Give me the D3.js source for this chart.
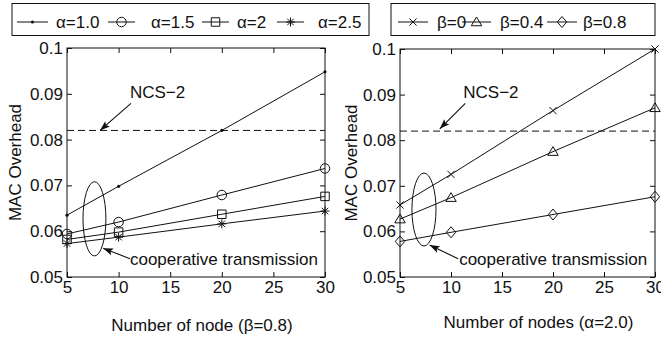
<!DOCTYPE html>
<html>
<head>
<meta charset="utf-8">
<script src="https://cdn.jsdelivr.net/npm/d3@7"></script>
<style>
  html, body { margin: 0; padding: 0; background: #fff; }
  svg { display: block; }
  text { font-family: "Liberation Sans", Arial, sans-serif; fill: #111; }
</style>
</head>
<body>
<svg id="chart" width="661" height="338"></svg>
<script>
// ---------------- data ----------------
const nodes = [5, 10, 20, 30];
const xTicks = [5, 10, 15, 20, 25, 30];
const yTicks = [0.05, 0.06, 0.07, 0.08, 0.09, 0.1];
const yTickLabels = ["0.05", "0.06", "0.07", "0.08", "0.09", "0.1"];
const ncs2 = 0.082;

const alphaLabels = ["\u03B1=1.0", "\u03B1=1.5", "\u03B1=2", "\u03B1=2.5"];
const alpha10 = [0.0635, 0.0698, 0.0820, 0.0948];
const alpha15 = [0.0594, 0.0620, 0.0679, 0.0737];
const alpha20 = [0.0582, 0.0598, 0.0637, 0.0676];
const alpha25 = [0.0573, 0.0587, 0.0616, 0.0644];

const betaLabels = ["\u03B2=0", "\u03B2=0.4", "\u03B2=0.8"];
const beta00 = [0.0658, 0.0725, 0.0865, 0.1000];
const beta04 = [0.0627, 0.0674, 0.0775, 0.0871];
const beta08 = [0.0578, 0.0598, 0.0637, 0.0676];

const leftXLabel = "Number of node (\u03B2=0.8)";
const rightXLabel = "Number of nodes (\u03B1=2.0)";
const yLabel = "MAC Overhead";
const ncsLabel = "NCS\u22122";
const coopLabel = "cooperative transmission";

// ---------------- helpers ----------------
const svg = d3.select("#chart");
const FS = 17;

function markerPath(type, s) {
  const h = s / 2;
  switch (type) {
    case "dot": return null;
    case "circle": return d3.symbol().type(d3.symbolCircle).size(Math.PI * h * h)();
    case "square": return `M${-h},${-h}H${h}V${h}H${-h}Z`;
    case "star": {
      const d = h * 0.72;
      return `M0,${-h}V${h}M${-h},0H${h}M${-d},${-d}L${d},${d}M${-d},${d}L${d},${-d}`;
    }
    case "x": { const d = h * 0.8; return `M${-d},${-d}L${d},${d}M${-d},${d}L${d},${-d}`; }
    case "triangle": return `M0,${-h}L${h * 1.05},${h * 0.75}L${-h * 1.05},${h * 0.75}Z`;
    case "diamond": return `M0,${-h}L${h * 0.85},0L0,${h}L${-h * 0.85},0Z`;
  }
}

function drawMarker(g, type, px, py) {
  if (type === "dot") {
    g.append("circle").attr("cx", px).attr("cy", py).attr("r", 1.6).attr("fill", "#111");
  } else {
    const size = {circle: 9.5, square: 8.5, star: 9, x: 9, triangle: 10, diamond: 11}[type];
    g.append("path").attr("d", markerPath(type, size))
      .attr("transform", `translate(${px},${py})`)
      .attr("fill", "none").attr("stroke", "#111").attr("stroke-width", 1);
  }
}

function arrow(g, x1, y1, x2, y2) {
  g.append("line").attr("x1", x1).attr("y1", y1).attr("x2", x2).attr("y2", y2)
    .attr("stroke", "#111").attr("stroke-width", 1.1);
  const ang = Math.atan2(y2 - y1, x2 - x1);
  const L = 10, W = 3.6;
  const bx = x2 - L * Math.cos(ang), by = y2 - L * Math.sin(ang);
  const nx = -Math.sin(ang), ny = Math.cos(ang);
  const ix = bx + Math.cos(ang) * 2, iy = by + Math.sin(ang) * 2;
  g.append("path")
    .attr("d", `M${x2},${y2}L${bx + nx * W},${by + ny * W}L${ix},${iy}L${bx - nx * W},${by - ny * W}Z`)
    .attr("fill", "#111");
}

function panel(opts) {
  const x = d3.scaleLinear().domain([5, 30]).range(opts.xr);
  const y = d3.scaleLinear().domain([0.05, 0.1]).range(opts.yr);
  const g = svg.append("g");

  // frame
  g.append("rect").attr("x", opts.xr[0]).attr("y", opts.yr[1])
    .attr("width", opts.xr[1] - opts.xr[0]).attr("height", opts.yr[0] - opts.yr[1])
    .attr("fill", "none").attr("stroke", "#111").attr("stroke-width", 1);

  const tk = 5;
  const bottom = g.append("g").attr("transform", `translate(0,${opts.yr[0]})`)
    .call(d3.axisBottom(x).tickValues(xTicks).tickSize(-tk).tickSizeOuter(0).tickPadding(4));
  const top = g.append("g").attr("transform", `translate(0,${opts.yr[1]})`)
    .call(d3.axisTop(x).tickValues(xTicks).tickSize(-tk).tickSizeOuter(0).tickFormat(""));
  const left = g.append("g").attr("transform", `translate(${opts.xr[0]},0)`)
    .call(d3.axisLeft(y).tickValues(yTicks).tickSize(-tk).tickSizeOuter(0).tickPadding(4)
      .tickFormat((d, i) => yTickLabels[i]));
  const right = g.append("g").attr("transform", `translate(${opts.xr[1]},0)`)
    .call(d3.axisRight(y).tickValues(yTicks).tickSize(-tk).tickSizeOuter(0).tickFormat(""));
  [bottom, top, left, right].forEach(a => {
    a.select(".domain").remove();
    a.selectAll("line").attr("stroke", "#111");
    a.selectAll("text").style("font-size", FS + "px").style("font-family", '"Liberation Sans", Arial, sans-serif').attr("fill", "#111");
  });

  // NCS-2 dashed line
  g.append("line").attr("x1", x(5)).attr("x2", x(30)).attr("y1", y(ncs2)).attr("y2", y(ncs2))
    .attr("stroke", "#111").attr("stroke-width", 1).attr("stroke-dasharray", "7,4");

  // series
  const line = d3.line().x((d, i) => x(nodes[i])).y(d => y(d));
  opts.series.forEach((s, k) => {
    g.append("path").attr("d", line(s)).attr("fill", "none").attr("stroke", "#111").attr("stroke-width", 1);
    s.forEach((v, i) => drawMarker(g, opts.markers[k], x(nodes[i]), y(v)));
  });

  // annotations
  const a = opts.ann;
  g.append("text").attr("x", x(a.ncsText[0])).attr("y", y(a.ncsText[1])).style("font-size", FS + "px").text(ncsLabel);
  arrow(g, x(a.ncsArrow[0]), y(a.ncsArrow[1]), x(a.ncsArrow[2]), y(a.ncsArrow[3]));
  g.append("ellipse").attr("cx", x(a.ell[0])).attr("cy", y(a.ell[1]))
    .attr("rx", x(a.ell[0] + a.ell[2]) - x(a.ell[0])).attr("ry", y(a.ell[1]) - y(a.ell[1] + a.ell[3]))
    .attr("fill", "none").attr("stroke", "#111").attr("stroke-width", 1);
  g.append("text").attr("x", x(a.coopText[0])).attr("y", y(a.coopText[1])).style("font-size", FS + "px").text(coopLabel);
  arrow(g, x(a.coopArrow[0]), y(a.coopArrow[1]), x(a.coopArrow[2]), y(a.coopArrow[3]));

  // axis labels
  g.append("text").attr("x", (opts.xr[0] + opts.xr[1]) / 2 + opts.xlabDx).attr("y", opts.xlabY)
    .attr("text-anchor", "middle").style("font-size", FS + "px").text(opts.xlabel);
  g.append("text").attr("transform", `translate(${opts.ylabX},${(opts.yr[0] + opts.yr[1]) / 2}) rotate(-90)`)
    .attr("text-anchor", "middle").style("font-size", FS + "px").text(yLabel);
}

// ---------------- panels ----------------
panel({
  xr: [67, 325], yr: [277, 48],
  series: [alpha10, alpha15, alpha20, alpha25],
  markers: ["dot", "circle", "square", "star"],
  xlabel: leftXLabel, xlabDx: 6, xlabY: 331, ylabX: 21,
  ann: {
    ncsText: [11.1, 0.0891], ncsArrow: [11.2, 0.0879, 8.2, 0.0820],
    ell: [7.66, 0.0627, 1.11, 0.0081],
    coopText: [11.1, 0.0526], coopArrow: [11.1, 0.0540, 8.5, 0.0563]
  }
});
panel({
  xr: [400, 655], yr: [277, 49],
  series: [beta00, beta04, beta08],
  markers: ["x", "triangle", "diamond"],
  xlabel: rightXLabel, xlabDx: 11, xlabY: 328, ylabX: 357,
  ann: {
    ncsText: [11.2, 0.0893], ncsArrow: [11.4, 0.0881, 8.9, 0.0825],
    ell: [7.35, 0.0648, 1.18, 0.0080],
    coopText: [10.8, 0.0526], coopArrow: [10.7, 0.0540, 7.9, 0.0570]
  }
});

// ---------------- legends ----------------
function legend(x0, x1, items) {
  const g = svg.append("g");
  g.append("rect").attr("x", x0).attr("y", 3.5).attr("width", x1 - x0).attr("height", 32)
    .attr("fill", "#fff").attr("stroke", "#111").attr("stroke-width", 1);
  items.forEach(it => {
    g.append("line").attr("x1", it.l0).attr("x2", it.l1).attr("y1", 22).attr("y2", 22)
      .attr("stroke", "#111").attr("stroke-width", 1);
    drawMarker(g, it.m, (it.l0 + it.l1) / 2, 22);
    g.append("text").attr("x", it.t).attr("y", 28).style("font-size", FS + "px").text(it.label);
  });
}
legend(12, 369, [
  {l0: 17, l1: 48, t: 56, m: "dot", label: alphaLabels[0]},
  {l0: 108, l1: 135, t: 151, m: "circle", label: alphaLabels[1]},
  {l0: 202, l1: 229, t: 237, m: "square", label: alphaLabels[2]},
  {l0: 277, l1: 304, t: 318, m: "star", label: alphaLabels[3]}
]);
legend(391, 655, [
  {l0: 398, l1: 428, t: 437, m: "x", label: betaLabels[0]},
  {l0: 462, l1: 491, t: 500, m: "triangle", label: betaLabels[1]},
  {l0: 547, l1: 577, t: 583, m: "diamond", label: betaLabels[2]}
]);
</script>
</body>
</html>
